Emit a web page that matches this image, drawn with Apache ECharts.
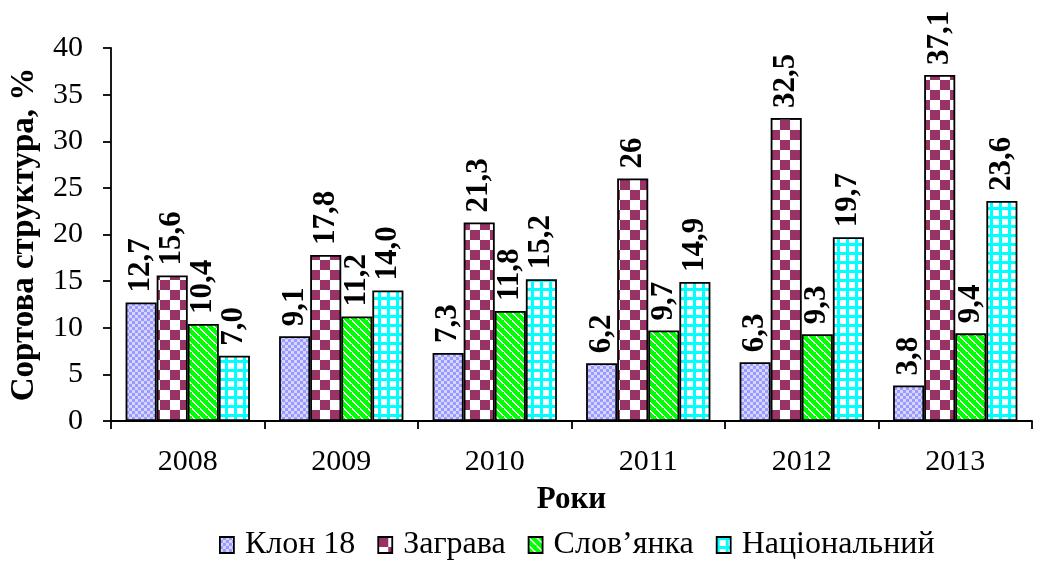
<!DOCTYPE html>
<html><head><meta charset="utf-8">
<script src="https://cdn.jsdelivr.net/npm/echarts@6/dist/echarts.min.js"></script>
<style>html,body{margin:0;padding:0;background:#fff}#c{width:1044px;height:566px}</style>
</head><body><div id="c"></div>
<script>
const categories = ['2008','2009','2010','2011','2012','2013'];
const seriesNames = ['Клон 18','Заграва','Слов’янка','Національний'];
const klon18 = [12.7, 9.1, 7.3, 6.2, 6.3, 3.8];
const zagrava = [15.6, 17.8, 21.3, 26, 32.5, 37.1];
const slovyanka = [10.4, 11.2, 11.8, 9.7, 9.3, 9.4];
const natsionalnyi = [7.0, 14.0, 15.2, 14.9, 19.7, 23.6];
const klon18Labels = ['12,7','9,1','7,3','6,2','6,3','3,8'];
const zagravaLabels = ['15,6','17,8','21,3','26','32,5','37,1'];
const slovyankaLabels = ['10,4','11,2','11,8','9,7','9,3','9,4'];
const natsionalnyiLabels = ['7,0','14,0','15,2','14,9','19,7','23,6'];
const yTicks = [0,5,10,15,20,25,30,35,40];

function mk(w,h,draw){const c=document.createElement('canvas');c.width=w;c.height=h;const g=c.getContext('2d');draw(g);return {image:c,repeat:'repeat'};}
const patKlon = mk(6,6,g=>{g.fillStyle='#9999ff';g.fillRect(0,0,6,6);g.fillStyle='#d6d6ff';g.fillRect(0,0,3,3);g.fillRect(3,3,3,3);});
const patZag = mk(20,20,g=>{g.fillStyle='#ffffff';g.fillRect(0,0,20,20);g.fillStyle='#993366';g.fillRect(0,0,10,10);g.fillRect(10,10,10,10);});
const patSlov = mk(8,8,g=>{g.fillStyle='#00ff00';g.fillRect(0,0,8,8);g.fillStyle='#ffffff';for(let i=0;i<8;i++){g.fillRect(i,i%8,1,2);}});
const patNat = mk(9,9,g=>{g.fillStyle='#00ffff';g.fillRect(0,0,9,9);g.fillStyle='#ffffff';g.fillRect(3,3,6,6);});

const pats=[patKlon,patZag,patSlov,patNat];
const vals=[klon18,zagrava,slovyanka,natsionalnyi];
const labs=[klon18Labels,zagravaLabels,slovyankaLabels,natsionalnyiLabels];
const font='"Liberation Serif", "Times New Roman", serif';

const series = seriesNames.map((n,i)=>({
  name:n, type:'bar', barGap:'0%', barCategoryGap:'19%',
  data: vals[i].map((v,j)=>({value:v, label:{formatter:labs[i][j]}})),
  itemStyle:{color:pats[i], borderColor:'#000', borderWidth:1.8},
  label:{show:true, position:'top', rotate:90, align:'left', verticalAlign:'middle', distance:10,
    fontFamily:font, fontWeight:'bold', fontSize:31, color:'#000'}
}));

const chart = echarts.init(document.getElementById('c'),null,{renderer:'canvas'});
chart.setOption({
  animation:false,
  backgroundColor:'#fff',
  grid:{left:110,right:12,top:48,bottom:145,containLabel:false},
  legend:{data:seriesNames.map(n=>({name:n, icon:'rect'})), bottom:0, left:214, itemWidth:14, itemHeight:16, itemGap:22,
    itemStyle:{borderColor:'#000', borderWidth:1.8},
    textStyle:{fontFamily:font, fontSize:32, color:'#000', padding:[0,0,0,6]}},
  xAxis:{type:'category', data:categories, name:'Роки', nameLocation:'middle', nameGap:63,
    nameTextStyle:{fontFamily:font, fontWeight:'bold', fontSize:31, color:'#000'},
    axisLine:{lineStyle:{color:'#000', width:1.8}},
    axisTick:{show:true, alignWithLabel:false, length:8, lineStyle:{color:'#000',width:1.8}},
    axisLabel:{fontFamily:font, fontSize:30, color:'#000', margin:26}},
  yAxis:{type:'value', min:0, max:40, interval:5,
    name:'Сортова структура, %', nameLocation:'middle', nameGap:70, nameRotate:90,
    nameTextStyle:{fontFamily:font, fontWeight:'bold', fontSize:33, color:'#000'},
    splitLine:{show:false},
    axisLine:{show:true, lineStyle:{color:'#000', width:1.8}},
    axisTick:{show:true, length:8, lineStyle:{color:'#000',width:1.8}},
    axisLabel:{fontFamily:font, fontSize:30, color:'#000', margin:28,
      formatter:v=>yTicks.includes(v)?String(v):''}},
  series:series
});
</script></body></html>
